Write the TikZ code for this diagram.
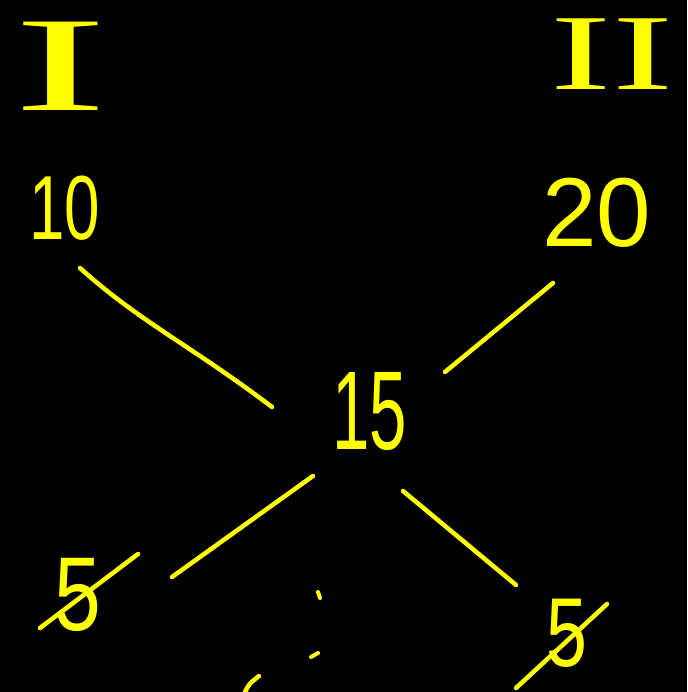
\documentclass[tikz,border=0pt]{standalone}
\usepackage{fontspec}
\newfontfamily\numfont{Liberation Sans}
\newfontfamily\romfont{Liberation Serif}
\definecolor{hand}{RGB}{255,255,0}
\begin{document}
\begin{tikzpicture}[x=1pt,y=-1pt,
  pen/.style={draw=hand,line width=4.5pt,line cap=round,line join=round},
  num/.style={text=hand,inner sep=0pt,font=\numfont\fontsize{#1}{#1}\selectfont},
  rom/.style={text=hand,inner sep=0pt,font=\romfont\fontsize{#1}{#1}\selectfont}]
\fill[black] (0,0) rectangle (687,692);
\useasboundingbox (0,0) rectangle (687,692);
% labels
\node[rom=135,xscale=2.1] (one) at (61,66) {I};
\node[rom=108,xscale=1.7] (two) at (612,54) {II};
\node[num=91,xscale=0.7] (ten) at (65,208) {10};
\node[num=98] (twenty) at (597,213) {20};
\node[num=112,xscale=0.6] (fifteen) at (370,412) {15};
\node[num=105,xscale=0.8] (fiveL) at (78,595) {5};
\node[num=98,xscale=0.75] (fiveR) at (567,633) {5};
% connector ends
\coordinate (a1) at (80,268);  \coordinate (a2) at (272,407);
\coordinate (b1) at (553,283); \coordinate (b2) at (445,372);
\coordinate (c1) at (313,476); \coordinate (c2) at (172,577);
\coordinate (d1) at (403,491); \coordinate (d2) at (516,585);
\draw[pen] (a1) .. controls (140,322) and (190,345) .. (a2);
\draw[pen] (b1) -- (b2);
\draw[pen] (c1) -- (c2);
\draw[pen] (d1) -- (d2);
% strike-throughs
\coordinate (s1) at (40,628);  \coordinate (s2) at (138,554);
\coordinate (t1) at (516,688); \coordinate (t2) at (607,604);
\draw[pen] (s1) -- (s2);
\draw[pen] (t1) -- (t2);
% colon marks and fragment
\draw[pen,line width=4pt] (318,592) -- (320,598);
\draw[pen,line width=4pt] (311,657) -- (318,653);
\draw[pen] (245,692) .. controls (249,684) .. (259,676);
\end{tikzpicture}
\end{document}
